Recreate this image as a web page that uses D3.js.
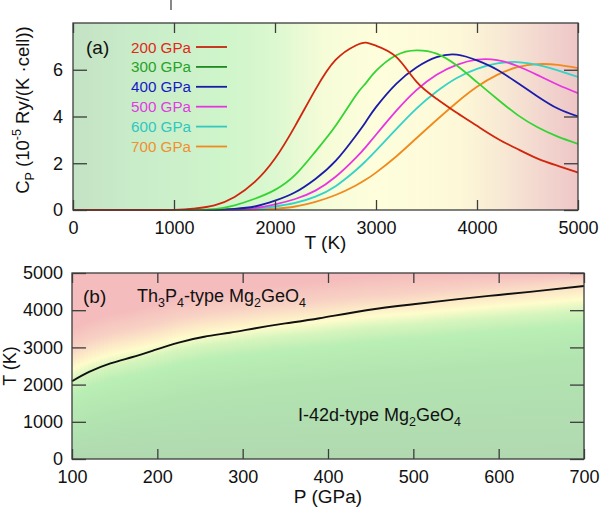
<!DOCTYPE html>
<html>
<head>
<meta charset="utf-8">
<script src="https://cdn.jsdelivr.net/npm/d3@7"></script>
<style>
  html, body { margin: 0; padding: 0; background: #fff; }
  svg { display: block; }
  text { font-family: "Liberation Sans", Arial, Helvetica, sans-serif; }
</style>
</head>
<body>
<svg id="chart" width="600" height="516"></svg>
<script>
// ---------- Panel (a) data: heat capacity vs temperature ----------
const temps = [0,500,1000,1200,1400,1600,1800,2000,2200,2400,2600,2800,2900,3000,3200,3400,3600,3800,4000,4200,4400,4600,4800,5000];
const cp200 = [0,0,0.005,0.06,0.2,0.56,1.2,2.2,3.6,5.15,6.42,7.04,7.16,7.03,6.55,5.49,4.76,4.16,3.6,3.06,2.61,2.2,1.89,1.6];
const cp300 = [0,0,0,0.005,0.04,0.2,0.48,0.86,1.5,2.5,3.6,4.9,5.43,5.95,6.62,6.83,6.69,6.18,5.47,4.75,4.07,3.54,3.14,2.83];
const cp400 = [0,0,0,0,0.01,0.05,0.15,0.4,0.76,1.33,2.1,3.18,3.78,4.4,5.4,6.1,6.54,6.65,6.4,6.0,5.44,4.86,4.34,4.0];
const cp500 = [0,0,0,0,0,0.02,0.08,0.24,0.47,0.83,1.42,2.23,2.7,3.22,4.24,5.13,5.79,6.21,6.43,6.41,6.16,5.77,5.36,5.0];
const cp600 = [0,0,0,0,0,0.01,0.05,0.15,0.3,0.57,1.02,1.7,2.1,2.54,3.46,4.34,5.07,5.65,6.04,6.27,6.33,6.21,5.97,5.69];
const cp700 = [0,0,0,0,0,0,0.02,0.06,0.15,0.35,0.64,1.05,1.3,1.6,2.29,3.07,3.85,4.6,5.27,5.78,6.11,6.24,6.21,6.07];
const seriesNames = ["200 GPa","300 GPa","400 GPa","500 GPa","600 GPa","700 GPa"];
const seriesValues = [cp200, cp300, cp400, cp500, cp600, cp700];
const tTicksA = [0,1000,2000,3000,4000,5000];
const cpTicks = [0,2,4,6];

// ---------- Panel (b) data: phase boundary ----------
const pressures = [100,120,145,170,195,225,255,285,315,350,390,445,500,550,600,650,700];
const boundaryT = [2090,2340,2570,2735,2915,3130,3285,3395,3515,3645,3785,4000,4160,4290,4410,4525,4650];
const pTicks = [100,200,300,400,500,600,700];
const tTicksB = [0,1000,2000,3000,4000,5000];

// ---------- styling ----------
const lineColors = ["#d0260e","#33d433","#1c1ca8","#e636e0","#34d2c8","#f08a1e"];
const textColors = ["#e0281a","#26a326","#1818c8","#e03ce0","#2ec8c0","#f09030"];
const legendLineColors = ["#c8240e","#1f8a1f","#1a1aa8","#e636e0","#34c8c0","#f08a1e"];
const frameColor = "#3c3c3c";
const tickFont = 18;

const svg = d3.select("#chart");
const defs = svg.append("defs");

// stray mark at top of the figure
svg.append("line").attr("x1",171).attr("x2",171).attr("y1",0).attr("y2",10)
  .attr("stroke","#555").attr("stroke-width",1.4);

// ================= PANEL (a) =================
const A = {l:73, r:578, t:23, b:210};
const xA = d3.scaleLinear().domain([0,5000]).range([A.l, A.r]);
const yA = d3.scaleLinear().domain([0,8]).range([A.b, A.t]);

const gradA = defs.append("linearGradient").attr("id","bgA")
  .attr("x1","0").attr("x2","1").attr("y1","0").attr("y2","0");
[[0,"#c4e2c4"],[0.12,"#c9ecc9"],[0.3,"#cff5cb"],[0.4,"#dcf8d0"],[0.5,"#f6fcd8"],
 [0.6,"#fefedc"],[0.76,"#fdf9d8"],[0.85,"#f8e9d4"],[0.93,"#f2d6cf"],[1,"#eec6c6"]]
 .forEach(([o,c]) => gradA.append("stop").attr("offset",o).attr("stop-color",c));

svg.append("rect").attr("x",A.l).attr("y",A.t).attr("width",A.r-A.l).attr("height",A.b-A.t)
  .attr("fill","url(#bgA)");

defs.append("clipPath").attr("id","clipA").append("rect")
  .attr("x",A.l).attr("y",A.t-2).attr("width",A.r-A.l).attr("height",A.b-A.t+3);

const lineA = d3.line().x((d,i)=>xA(temps[i])).y(d=>yA(Math.max(0,d))).curve(d3.curveNatural);
const curves = svg.append("g").attr("clip-path","url(#clipA)");
seriesValues.slice().reverse().forEach((vals, k) => {
  const i = seriesValues.length-1-k;
  curves.append("path").datum(vals).attr("d", lineA)
    .attr("fill","none").attr("stroke", lineColors[i]).attr("stroke-width",1.8);
});

// axes for (a)
const axA = svg.append("g");
axA.append("g").attr("transform",`translate(0,${A.b})`)
  .call(d3.axisBottom(xA).tickValues(tTicksA).tickSize(-10).tickPadding(11).tickFormat(d3.format("d")));
axA.append("g").attr("transform",`translate(0,${A.t})`)
  .call(d3.axisTop(xA).tickValues(tTicksA).tickSize(-10).tickFormat(""));
axA.append("g").attr("transform",`translate(${A.l},0)`)
  .call(d3.axisLeft(yA).tickValues(cpTicks).tickSize(-14).tickPadding(10));
axA.append("g").attr("transform",`translate(${A.r},0)`)
  .call(d3.axisRight(yA).tickValues(cpTicks).tickSize(-14).tickFormat(""));

// legend
const leg = svg.append("g");
seriesNames.forEach((name,i) => {
  const yy = 47 + i*19.9;
  leg.append("text").attr("x",191).attr("y",yy+5.5).attr("text-anchor","end")
    .attr("font-size",15.2).attr("fill",textColors[i]).text(name);
  leg.append("line").attr("x1",196).attr("x2",227).attr("y1",yy).attr("y2",yy)
    .attr("stroke",legendLineColors[i]).attr("stroke-width",1.8);
});
svg.append("text").attr("x",86).attr("y",54).attr("font-size",19).attr("fill","#111").text("(a)");

// axis labels (a)
svg.append("text").attr("x",(A.l+A.r)/2).attr("y",249).attr("text-anchor","middle")
  .attr("font-size",19).attr("fill","#111").text("T (K)");
const yl = svg.append("text").attr("transform","translate(29,110) rotate(-90)")
  .attr("text-anchor","middle").attr("font-size",18.5).attr("fill","#111");
yl.append("tspan").text("C");
yl.append("tspan").attr("font-size",12.5).attr("dy",5).text("P");
yl.append("tspan").attr("dy",-5).text(" (10");
yl.append("tspan").attr("font-size",12.5).attr("dy",-8).text("-5");
yl.append("tspan").attr("dy",8).text(" Ry/(K \u00b7cell))");

// ================= PANEL (b) =================
const B = {l:72, r:584, t:273, b:459};
const xB = d3.scaleLinear().domain([100,700]).range([B.l, B.r]);
const yB = d3.scaleLinear().domain([0,5000]).range([B.b, B.t]);
const bInterp = d3.scaleLinear().domain(pressures).range(boundaryT);
const yellowOffset = d3.scaleLinear().domain([100,200,300,500,700]).range([320,125,20,-250,-350]);

const nCols = 128;
const colW = (B.r - B.l)/nCols;
const bgB = svg.append("g");
for (let c = 0; c < nCols; c++) {
  const x0 = B.l + c*colW;
  const P = xB.invert(x0 + colW/2);
  const Ty = bInterp(P) + yellowOffset(P);
  const stops = [
    [Ty + 1100, "#f4bcbc"],
    [Ty + 550,  "#f8d2c4"],
    [Ty + 180,  "#fdeec8"],
    [Ty,        "#fefccc"],
    [Ty - 300,  "#d6f5bd"],
    [Ty - 700,  "#b9eeb4"],
    [Ty - 1600, "#b2e4b0"],
    [0,         "#b1d9b1"]
  ];
  const gid = "bgB" + c;
  const g = defs.append("linearGradient").attr("id",gid)
    .attr("gradientUnits","userSpaceOnUse")
    .attr("x1",0).attr("x2",0).attr("y1",B.t).attr("y2",B.b);
  let last = 0;
  g.append("stop").attr("offset",0).attr("stop-color","#f4bcbc");
  stops.forEach(([T,col]) => {
    let off = (yB(Math.max(0,Math.min(5000,T))) - B.t)/(B.b-B.t);
    off = Math.max(last, Math.min(1, off));
    last = off;
    g.append("stop").attr("offset",off).attr("stop-color",col);
  });
  bgB.append("rect").attr("x",x0).attr("y",B.t).attr("width",colW+0.6).attr("height",B.b-B.t)
    .attr("fill",`url(#${gid})`);
}

// boundary line
const lineB = d3.line().x((d,i)=>xB(pressures[i])).y(d=>yB(d)).curve(d3.curveNatural);
svg.append("path").datum(boundaryT).attr("d",lineB).attr("fill","none")
  .attr("stroke","#111").attr("stroke-width",1.9);

// axes (b)
const axB = svg.append("g");
axB.append("g").attr("transform",`translate(0,${B.b})`)
  .call(d3.axisBottom(xB).tickValues(pTicks).tickSize(-10).tickPadding(11).tickFormat(d3.format("d")));
axB.append("g").attr("transform",`translate(0,${B.t})`)
  .call(d3.axisTop(xB).tickValues(pTicks).tickSize(-10).tickFormat(""));
axB.append("g").attr("transform",`translate(${B.l},0)`)
  .call(d3.axisLeft(yB).tickValues(tTicksB).tickSize(-14).tickPadding(9).tickFormat(d3.format("d")));
axB.append("g").attr("transform",`translate(${B.r},0)`)
  .call(d3.axisRight(yB).tickValues(tTicksB).tickSize(-14).tickFormat(""));

// labels (b)
svg.append("text").attr("x",83).attr("y",303).attr("font-size",19).attr("fill","#111").text("(b)");
function phaseLabel(x, y, parts) {
  const t = svg.append("text").attr("x",x).attr("y",y).attr("font-size",18).attr("fill","#111");
  let prevSub = false;
  parts.forEach(([s,sub]) => {
    if (sub) {
      t.append("tspan").attr("font-size",12.5).attr("dy",prevSub ? 0 : 5).text(s);
    } else {
      t.append("tspan").attr("dy", prevSub ? -5 : 0).text(s);
    }
    prevSub = sub;
  });
  return t;
}
phaseLabel(137, 302, [["Th",false],["3",true],["P",false],["4",true],["-type Mg",false],["2",true],["GeO",false],["4",true]]);
phaseLabel(298, 421, [["I-42d-type Mg",false],["2",true],["GeO",false],["4",true]]);

svg.append("text").attr("x",(B.l+B.r)/2).attr("y",503).attr("text-anchor","middle")
  .attr("font-size",19).attr("fill","#111").text("P (GPa)");
svg.append("text").attr("transform","translate(16,366) rotate(-90)").attr("text-anchor","middle")
  .attr("font-size",18).attr("fill","#111").text("T (K)");

// frames on top
[A,B].forEach(p => {
  svg.append("rect").attr("x",p.l).attr("y",p.t).attr("width",p.r-p.l).attr("height",p.b-p.t)
    .attr("fill","none").attr("stroke",frameColor).attr("stroke-width",1.3);
});

// axis styling
svg.selectAll(".domain").remove();
svg.selectAll(".tick line").attr("stroke",frameColor).attr("stroke-width",1.3);
svg.selectAll(".tick text").attr("font-size",tickFont).attr("fill","#111")
  .attr("font-family","'Liberation Sans', Arial, sans-serif");
</script>
</body>
</html>
